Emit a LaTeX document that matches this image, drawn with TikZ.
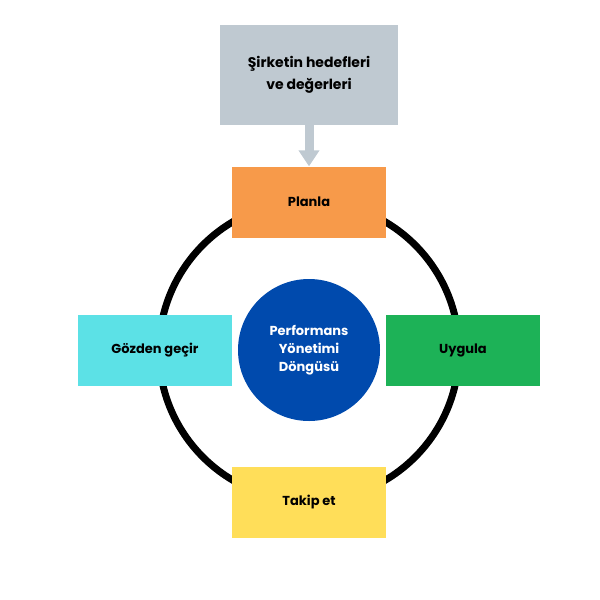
\documentclass[tikz,border=0pt]{standalone}
\usepackage{fontspec}
\setmainfont{Poppins}[BoldFont=* Bold]
\usetikzlibrary{positioning,arrows.meta}
\definecolor{grayBox}{RGB}{191,201,209}
\definecolor{orangeBox}{RGB}{247,154,74}
\definecolor{greenBox}{RGB}{29,178,87}
\definecolor{cyanBox}{RGB}{92,225,230}
\definecolor{yellowBox}{RGB}{255,222,89}
\definecolor{blueCore}{RGB}{0,74,173}
\tikzset{
  stage/.style={draw=none, minimum width=154pt, minimum height=71pt, font=\bfseries\fontsize{13}{16}\selectfont, align=center},
}
\begin{document}
\begin{tikzpicture}[x=1pt,y=-1pt]
        \useasboundingbox (0,0) rectangle (600,600);
        % Ring
        \draw[line width=7pt] (309,351) circle (150);

        % Center
        \node[circle, fill=blueCore, minimum size=142pt, text=white, align=center,
              font=\bfseries\fontsize{13}{18}\selectfont] (core) at (309,350) {Performans\\Yönetimi\\Döngüsü};

        % Stages
        \node[stage, fill=orangeBox] (plan) at (309,202) {Planla};
        \node[stage, fill=greenBox] (apply) at (463,350) {Uygula};
        \node[stage, fill=cyanBox] (review) at (155,350) {Gözden geçir};
        \node[stage, fill=yellowBox] (track) at (309,502) {Takip et};

        % Goals
        \node[stage, fill=grayBox, minimum width=178pt, minimum height=100pt,
              font=\bfseries\fontsize{14}{22}\selectfont] (goals) at (309,75) {Şirketin hedefleri\\ve değerleri};
        \draw[grayBox, line width=9pt, -{Triangle[width=20pt,length=16pt]}] (goals.south) -- (plan.north);
    \end{tikzpicture}
\end{document}
